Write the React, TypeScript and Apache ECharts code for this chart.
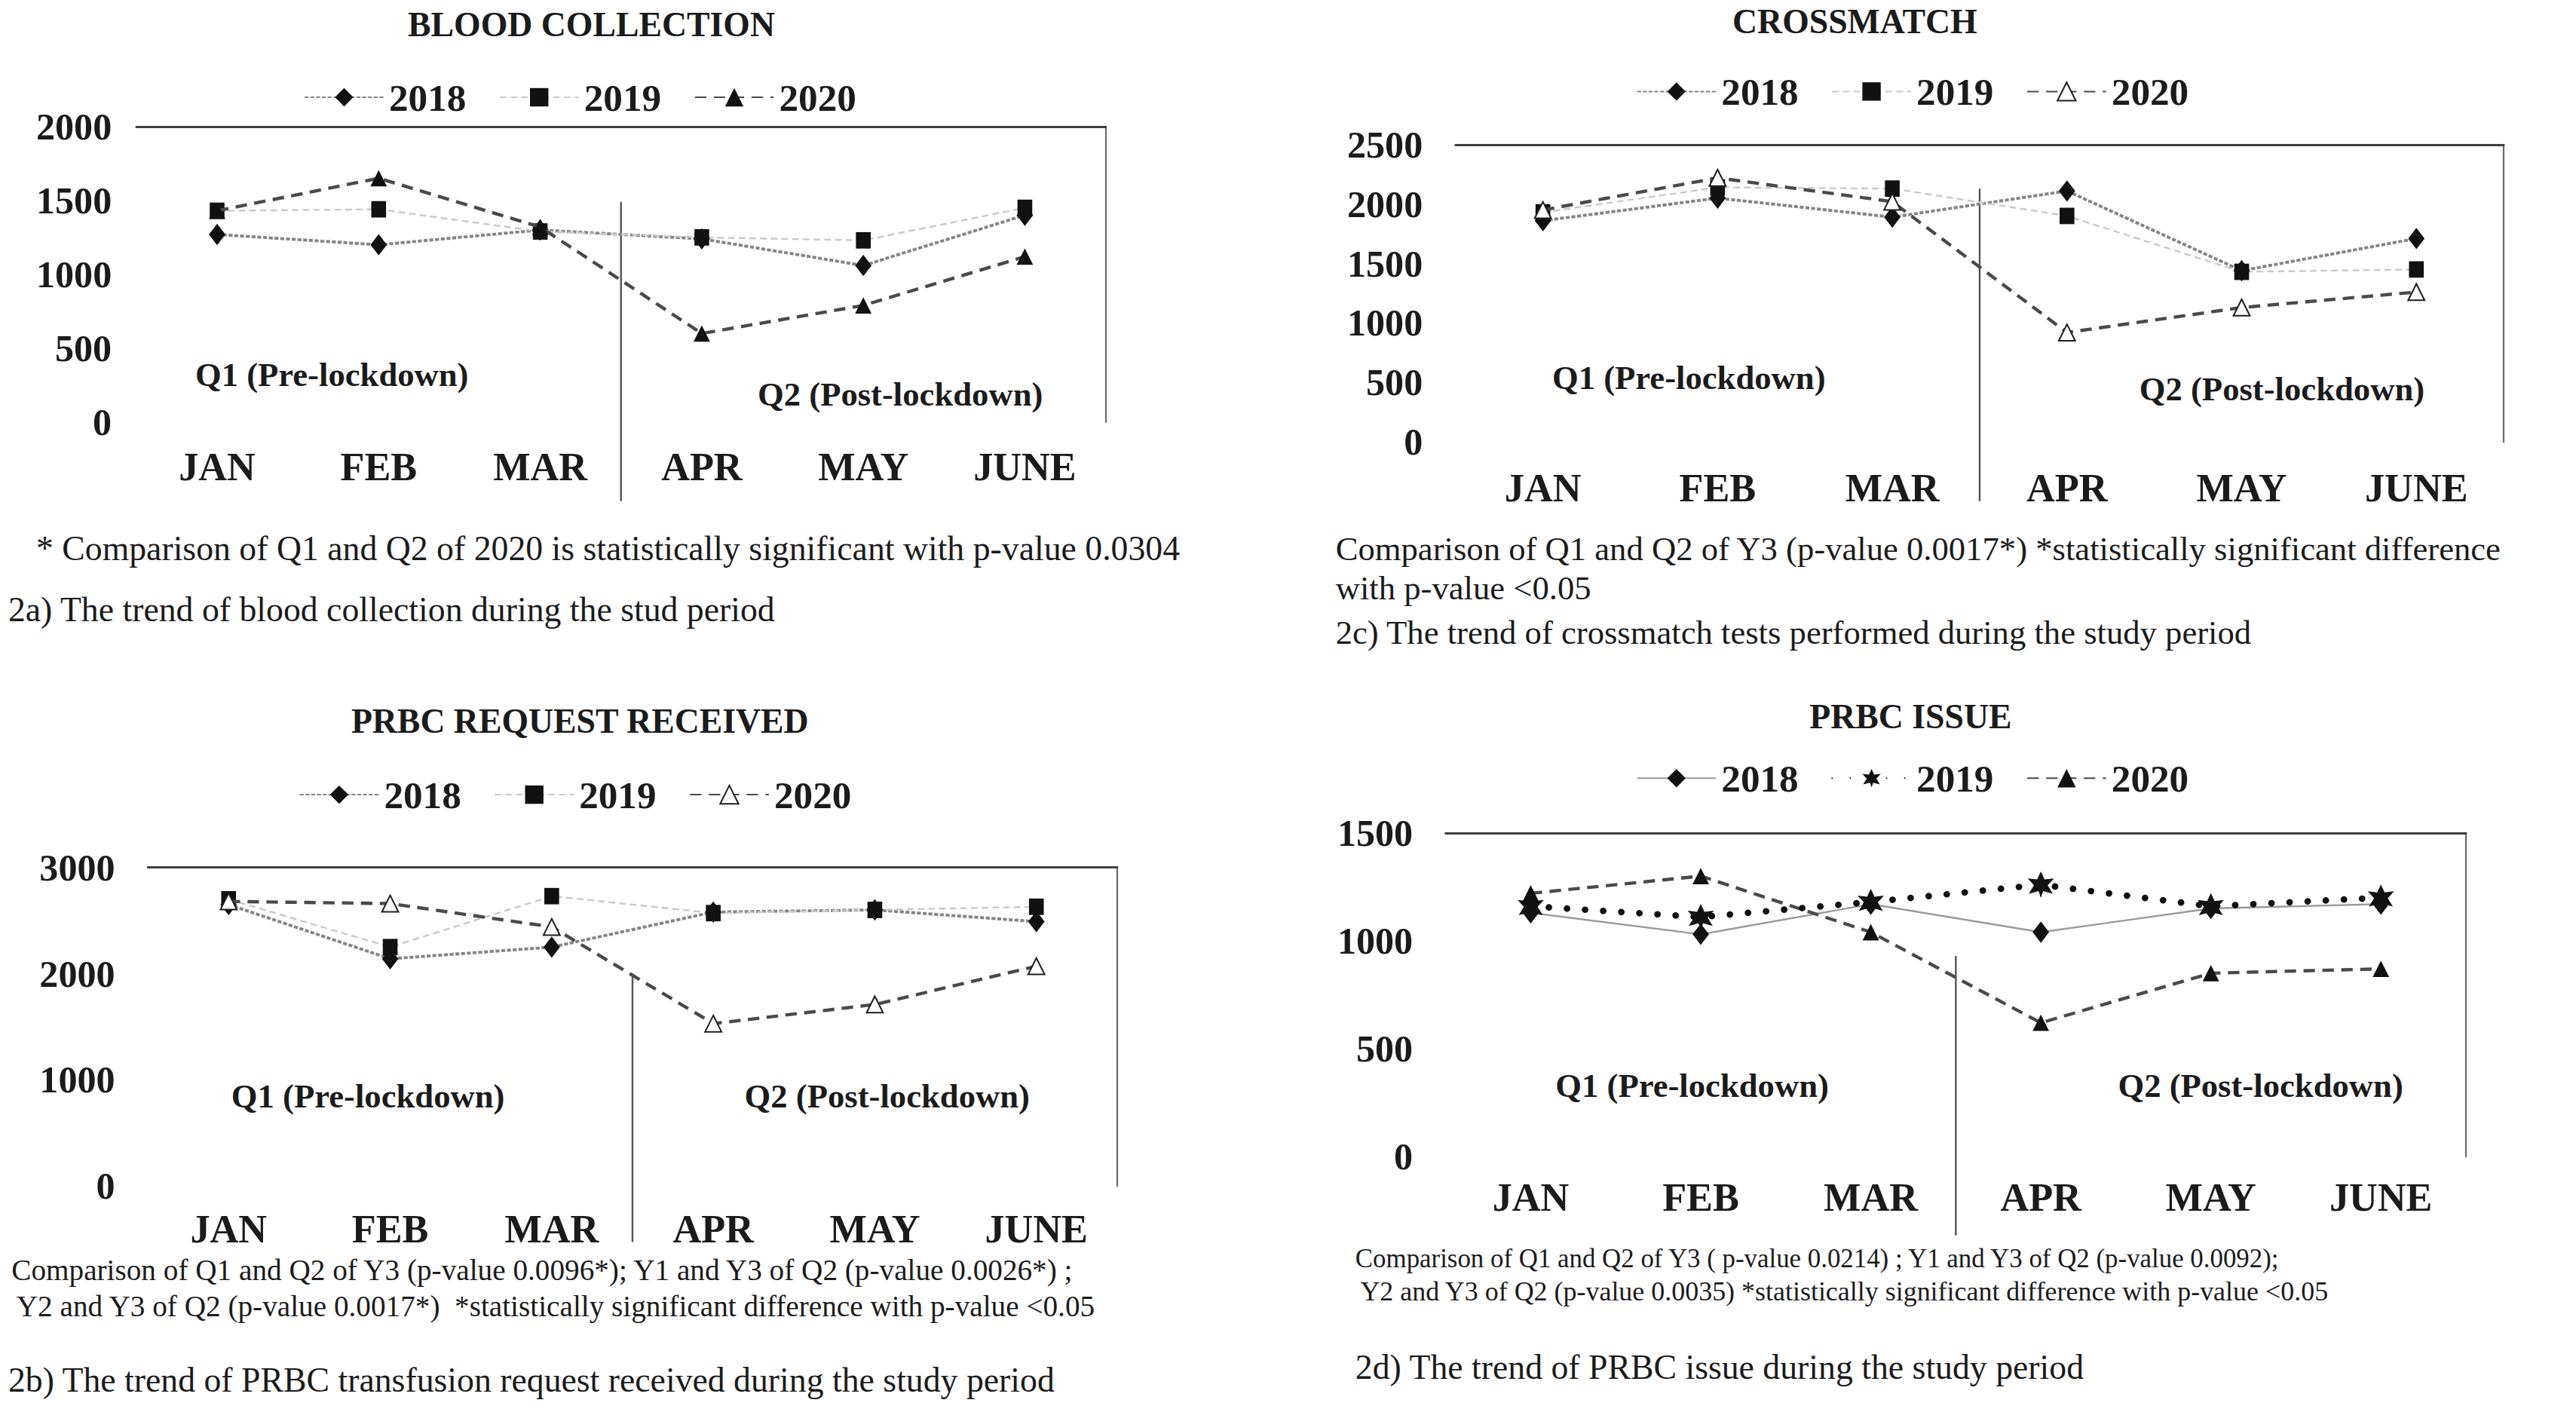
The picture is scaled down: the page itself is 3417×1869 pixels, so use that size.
import React, { useEffect, useRef } from "react";
import * as echarts from "echarts";

const W = 3417;
const H = 1869;
const S = W / 1568;
const px = (v: number) => v * S;

const months = ["JAN", "FEB", "MAR", "APR", "MAY", "JUNE"];
const years = ["2018", "2019", "2020"];

const bloodCollection2018 = [1270, 1200, 1300, 1240, 1060, 1400];
const bloodCollection2019 = [1430, 1440, 1290, 1250, 1230, 1450];
const bloodCollection2020 = [1430, 1650, 1320, 600, 790, 1120];

const crossmatch2018 = [1860, 2050, 1890, 2110, 1440, 1710];
const crossmatch2019 = [1930, 2140, 2130, 1900, 1430, 1450];
const crossmatch2020 = [1950, 2220, 2020, 920, 1130, 1260];

const request2018 = [2650, 2140, 2250, 2580, 2600, 2490];
const request2019 = [2700, 2250, 2730, 2570, 2600, 2630];
const request2020 = [2680, 2660, 2440, 1530, 1710, 2070];

const issue2018 = [1130, 1030, 1170, 1040, 1150, 1170];
const issue2019 = [1160, 1110, 1180, 1260, 1160, 1200];
const issue2020 = [1220, 1300, 1040, 620, 850, 870];

const FONT = '"Liberation Serif", "Times New Roman", Times, serif';
const INK = "#1b1b1b";

type Note = { x: number; y: number; size: number; text: string };
type Panel = {
  id: string;
  title: string;
  data: number[][];
  yMax: number;
  yStep: number;
  box: { l: number; t: number; r: number; b: number };
  titleAt: [number, number];
  legendAt: [number, number];
  yGap: number;
  xGap: number;
  divider: { top: number; bottom: number };
  q1: [number, number];
  q2: [number, number];
  emptyTri: boolean;
  star2019: boolean;
  notes: Note[];
};

const panels: Panel[] = [
  {
    id: "p1",
    title: "BLOOD COLLECTION",
    data: [bloodCollection2018, bloodCollection2019, bloodCollection2020],
    yMax: 2000,
    yStep: 500,
    box: { l: 83, t: 77, r: 673, b: 257 },
    titleAt: [360, 15],
    legendAt: [185, 60.5],
    yGap: 15,
    xGap: 15,
    divider: { top: 1490, bottom: 305 },
    q1: [202, 228],
    q2: [548, 240],
    emptyTri: false,
    star2019: false,
    notes: [
      { x: 22, y: 334, size: 21, text: "* Comparison of Q1 and Q2 of 2020 is statistically significant with p-value 0.0304" },
      { x: 5, y: 371, size: 21, text: "2a) The trend of blood collection during the stud period" },
    ],
  },
  {
    id: "p2",
    title: "CROSSMATCH",
    data: [crossmatch2018, crossmatch2019, crossmatch2020],
    yMax: 2500,
    yStep: 500,
    box: { l: 886, t: 88, r: 1524, b: 269 },
    titleAt: [1129, 13],
    legendAt: [996, 57],
    yGap: 20,
    xGap: 16,
    divider: { top: 2130, bottom: 305 },
    q1: [1028, 230],
    q2: [1389, 237],
    emptyTri: true,
    star2019: false,
    notes: [
      { x: 813, y: 334, size: 20.5, text: "Comparison of Q1 and Q2 of Y3 (p-value 0.0017*) *statistically significant difference" },
      { x: 813, y: 358, size: 20.5, text: "with p-value <0.05" },
      { x: 813, y: 385, size: 20.5, text: "2c) The trend of crossmatch tests performed during the study period" },
    ],
  },
  {
    id: "p3",
    title: "PRBC REQUEST RECEIVED",
    data: [request2018, request2019, request2020],
    yMax: 3000,
    yStep: 1000,
    box: { l: 90, t: 528, r: 680, b: 722 },
    titleAt: [353, 439],
    legendAt: [182, 485],
    yGap: 20,
    xGap: 14,
    divider: { top: 2000, bottom: 756 },
    q1: [224, 667],
    q2: [540, 667],
    emptyTri: true,
    star2019: false,
    notes: [
      { x: 7, y: 773, size: 18, text: "Comparison of Q1 and Q2 of Y3 (p-value 0.0096*); Y1 and Y3 of Q2 (p-value 0.0026*) ;" },
      { x: 10, y: 795, size: 18, text: "Y2 and Y3 of Q2 (p-value 0.0017*)  *statistically significant difference with p-value <0.05" },
      { x: 5, y: 840, size: 21, text: "2b) The trend of PRBC transfusion request received during the study period" },
    ],
  },
  {
    id: "p4",
    title: "PRBC ISSUE",
    data: [issue2018, issue2019, issue2020],
    yMax: 1500,
    yStep: 500,
    box: { l: 880, t: 507, r: 1501, b: 704 },
    titleAt: [1163, 436],
    legendAt: [996, 475],
    yGap: 20,
    xGap: 13,
    divider: { top: 930, bottom: 752 },
    q1: [1030, 661],
    q2: [1376, 661],
    emptyTri: false,
    star2019: true,
    notes: [
      { x: 825, y: 766, size: 16, text: "Comparison of Q1 and Q2 of Y3 ( p-value 0.0214) ; Y1 and Y3 of Q2 (p-value 0.0092);" },
      { x: 828, y: 786, size: 16.5, text: "Y2 and Y3 of Q2 (p-value 0.0035) *statistically significant difference with p-value <0.05" },
      { x: 825, y: 832, size: 21, text: "2d) The trend of PRBC issue during the study period" },
    ],
  },
];

const STAR = "path://M50,0 L63,30 L96,26 L74,52 L92,84 L58,74 L50,100 L42,74 L8,84 L26,52 L4,26 L37,30 Z";

function buildSeries() {
  const out: any[] = [];
  panels.forEach((p, gi) => {
    p.data.forEach((vals, k) => {
      let symbol: string = "diamond";
      let symbolSize: any = [px(10), px(13)];
      let lineStyle: any = {};
      let itemStyle: any = { color: "#111" };
      let z = 2;
      if (k === 0) {
        symbol = "diamond";
        symbolSize = [px(10), px(13)];
        lineStyle = p.star2019
          ? { color: "#9a9a9a", width: px(1.1), type: "solid" }
          : { color: "#858585", width: px(1.8), type: [px(2.4), px(1.1)] };
      } else if (k === 1) {
        if (p.star2019) {
          symbol = STAR;
          symbolSize = px(16);
          lineStyle = { color: "#111", width: px(4), type: [0.1, px(11)], cap: "round" };
          z = 4;
        } else {
          symbol = "rect";
          symbolSize = [px(9), px(10)];
          lineStyle = { color: "#c9c9c9", width: px(1.1), type: [px(4), px(2.5)] };
        }
      } else {
        symbol = p.emptyTri ? "emptyTriangle" : "triangle";
        symbolSize = px(10);
        lineStyle = { color: "#4a4a4a", width: px(2), type: [px(7), px(4.5)] };
        if (p.emptyTri) itemStyle = { color: "#1e1e1e", borderWidth: px(2) };
        z = 3;
      }
      out.push({
        type: "line",
        name: `${p.id}:${years[k]}`,
        xAxisIndex: gi,
        yAxisIndex: gi,
        data: vals,
        symbol,
        symbolSize,
        showAllSymbol: true,
        lineStyle,
        itemStyle,
        z,
        emphasis: { disabled: true },
      });
    });
  });
  return out;
}

function buildOption(): any {
  return {
    animation: false,
    backgroundColor: "#ffffff",
    textStyle: { fontFamily: FONT },
    grid: panels.map((p) => ({
      left: px(p.box.l),
      top: px(p.box.t),
      width: px(p.box.r - p.box.l),
      height: px(p.box.b - p.box.t),
      containLabel: false,
      show: false,
    })),
    legend: panels.map((p) => ({
      left: px(p.legendAt[0]),
      top: px(p.legendAt[1]) - px(13),
      padding: 0,
      orient: "horizontal",
      itemWidth: px(48),
      itemHeight: px(14),
      itemGap: px(20),
      selectedMode: false,
      data: years.map((y) => `${p.id}:${y}`),
      formatter: (n: string) => n.split(":")[1],
      textStyle: {
        fontFamily: FONT,
        fontWeight: "bold",
        fontSize: px(23.5),
        color: INK,
        padding: [0, 0, 0, px(1)],
      },
    })),
    xAxis: [
      ...panels.map((p, gi) => ({
        type: "category",
        gridIndex: gi,
        data: months,
        boundaryGap: true,
        axisLine: { show: false },
        axisTick: { show: false },
        splitLine: { show: false },
        axisLabel: {
          margin: px(p.xGap),
          fontFamily: FONT,
          fontWeight: "bold",
          fontSize: px(24),
          color: INK,
          interval: 0,
        },
      })),
      ...panels.map((p, gi) => ({
        type: "category",
        gridIndex: gi,
        data: months,
        position: "top",
        axisLine: { show: true, onZero: false, lineStyle: { color: "#3e3e3e", width: px(1.3) } },
        axisTick: { show: false },
        axisLabel: { show: false },
        splitLine: { show: false },
      })),
    ],
    yAxis: [
      ...panels.map((p, gi) => ({
        type: "value",
        gridIndex: gi,
        min: 0,
        max: p.yMax,
        interval: p.yStep,
        axisLine: { show: false },
        axisTick: { show: false },
        splitLine: { show: false },
        axisLabel: {
          margin: px(p.yGap),
          fontFamily: FONT,
          fontWeight: "bold",
          fontSize: px(23),
          color: INK,
          formatter: (v: number) => String(v),
        },
      })),
      ...panels.map((p, gi) => ({
        type: "value",
        gridIndex: gi,
        position: "right",
        min: 0,
        max: p.yMax,
        interval: p.yStep,
        axisLine: { show: true, onZero: false, lineStyle: { color: "#6a6a6a", width: px(1) } },
        axisTick: { show: false },
        axisLabel: { show: false },
        splitLine: { show: false },
      })),
    ],
    series: buildSeries(),
  };
}

function textEl(x: number, y: number, text: string, size: number, bold: boolean, align: string) {
  return {
    type: "text",
    x: px(x),
    y: px(y),
    silent: true,
    z: 10,
    style: {
      text,
      fill: INK,
      fontFamily: FONT,
      fontSize: px(size),
      fontWeight: bold ? "bold" : "normal",
      textAlign: align,
      textVerticalAlign: "middle",
      align,
      verticalAlign: "middle",
    },
  };
}

export default function App() {
  const ref = useRef<HTMLDivElement>(null);
  useEffect(() => {
    if (!ref.current) return;
    const chart = echarts.init(ref.current, undefined, { renderer: "svg" });
    chart.setOption(buildOption());
    const g: any[] = [];
    panels.forEach((p, gi) => {
      g.push(textEl(p.titleAt[0], p.titleAt[1], p.title, 21, true, "center"));
      g.push(textEl(p.q1[0], p.q1[1], "Q1 (Pre-lockdown)", 20.5, true, "center"));
      g.push(textEl(p.q2[0], p.q2[1], "Q2 (Post-lockdown)", 20.5, true, "center"));
      p.notes.forEach((n) => g.push(textEl(n.x, n.y, n.text, n.size, false, "left")));
      const xa = chart.convertToPixel({ xAxisIndex: gi } as any, "MAR") as unknown as number;
      const xb = chart.convertToPixel({ xAxisIndex: gi } as any, "APR") as unknown as number;
      const yTop = chart.convertToPixel({ yAxisIndex: gi } as any, p.divider.top) as unknown as number;
      const xm = (xa + xb) / 2;
      g.push({
        type: "line",
        silent: true,
        z: 1,
        shape: { x1: xm, y1: yTop, x2: xm, y2: px(p.divider.bottom) },
        style: { stroke: "#555555", lineWidth: px(1.1) },
      });
    });
    chart.setOption({ graphic: g });
    return () => chart.dispose();
  }, []);
  return (
    <div
      ref={ref}
      style={{ position: "absolute", left: 0, top: 0, width: W, height: H, background: "#fff" }}
    />
  );
}
